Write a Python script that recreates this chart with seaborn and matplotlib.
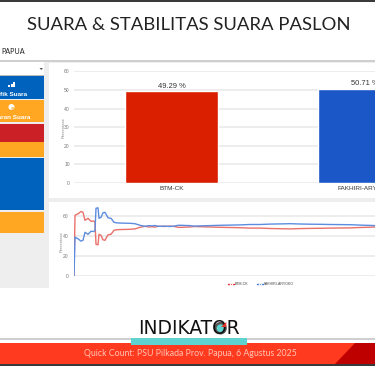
import matplotlib
matplotlib.use("Agg")
import matplotlib.pyplot as plt
from matplotlib.patches import Rectangle, Polygon, Circle, Wedge
import pandas as pd
import seaborn as sns

paslon = ["BTM-CK", "FAKHIRI-ARYOKO"]
persen = [49.29, 50.71]
warna = ["#DA1F00", "#1C57C8"]
warna_garis = ["#E9716A", "#5D8DE0"]

sampel = [0, 1, 2, 4, 7, 9, 11, 14, 17, 20, 21, 22, 24, 25, 27, 29, 31, 34, 37, 40, 43, 48, 56, 61, 66,
          71, 75, 78, 81, 84, 87, 90, 93, 96, 100, 104, 108, 112, 116, 120, 126, 136, 146, 156, 166,
          176, 186, 196, 206, 216, 226, 236, 246, 256, 266, 276, 286, 296, 301]
btm_ck = [0, 61, 61.5, 62.5, 64.8, 64, 56, 58, 55, 55.2, 54, 32, 31.5, 42, 41, 36.5, 36, 41.5, 42, 46,
          46.6, 46.8, 47, 47.4, 49, 50, 49.3, 49.6, 49.2, 50, 50, 49.8, 50, 50.2, 49.9, 49, 49, 49.2,
          49.3, 49.8, 49.6, 49.3, 49, 48.8, 48.6, 48.2, 48.2, 47.8, 47.6, 47.4, 47.7, 47.9, 48, 48.2,
          48.3, 48.4, 48.8, 49.1, 49.29]
fakhiri = [0, 39, 38.5, 37.5, 35.2, 36, 44, 42, 45, 44.8, 46, 68, 68.5, 58, 59, 63.5, 64, 58.5, 58, 54,
           53.4, 53.2, 53, 52.6, 51, 50, 50.7, 50.4, 50.8, 50, 50, 50.2, 50, 49.8, 50.1, 51, 51, 50.8,
           50.7, 50.2, 50.4, 50.7, 51, 51.2, 51.4, 51.8, 51.8, 52.2, 52.4, 52.6, 52.3, 52.1, 52, 51.8,
           51.7, 51.6, 51.2, 50.9, 50.71]

judul = "SUARA & STABILITAS SUARA PASLON"
wilayah = "PAPUA"
menu_1 = "Grafik Suara"
menu_2 = "Sebaran Suara"
kaki = "Quick Count: PSU Pilkada Prov. Papua, 6 Agustus 2025"
logo = "INDIKATOR"
sumbu_y = "Persentase"

W, H = 375, 366
sns.set_theme(style="white")
plt.rcParams["font.family"] = ["Liberation Sans", "DejaVu Sans"]
fig = plt.figure(figsize=(W / 100, H / 100), dpi=100, facecolor="white")


def kotak(px0, py0, px1, py1):
    return [px0 / W, 1 - py1 / H, (px1 - px0) / W, (py1 - py0) / H]


bg = fig.add_axes([0, 0, 1, 1], zorder=0)
bg.set_xlim(0, W)
bg.set_ylim(H, 0)
bg.axis("off")


def rect(x0, y0, x1, y1, c, **kw):
    bg.add_patch(Rectangle((x0, y0), x1 - x0, y1 - y0, fc=c, ec="none", **kw))


rect(0, 0, W, 1.5, "#3a3a3a")
rect(0, 60, W, 62, "#cfcfcf")
rect(0, 62, W, 288, "#EEEEEE")
rect(49, 63, W, 198, "white")
rect(49, 202, W, 288, "white")
rect(0, 62, 44, 75, "white")
rect(0, 75, 44, 76, "#bbbbbb")
for y0, y1, c in [(76, 98.5, "#0062BC"), (100, 122, "#FFA722"), (124, 142, "#CC2027"),
                  (142, 156.5, "#FFA722"), (158, 210, "#0062BC"), (212, 233, "#FFA722")]:
    rect(0, y0, 44, y1, c)
bg.add_patch(Polygon([(39.5, 68), (43, 68), (41.2, 70)], fc="#555555", ec="none"))

# ikon menu
for x, h in [(8, 1.5), (10.5, 3), (13, 4.5)]:
    rect(x, 86.5 - h, x + 2, 86.5, "white")
bg.add_patch(Circle((11.5, 107), 3, fc="white", ec="none"))
bg.add_patch(Wedge((11.5, 107), 3, 0, 90, fc="#FFC873", ec="none"))

bg.text(27, 94, menu_1, color="white", fontsize=4.6, ha="right", va="center", fontweight="bold")
bg.text(30.5, 117.5, menu_2, color="white", fontsize=4.6, ha="right", va="center", fontweight="bold")

bg.text(189, 24.5, judul, family=["Lato"], fontsize=13.3, color="#222222",
        ha="center", va="center")
bg.text(1, 51, wilayah, fontsize=5.2, color="#222222", ha="left", va="center", family=["Lato"])

# kaki halaman
rect(0, 338, W, 339.5, "#CFCFCF")
rect(0, 342.5, W, 364, "#FF3A1F")
bg.add_patch(Polygon([(355, 342.5), (W, 342.5), (W, 364), (335, 364)], fc="#BE0000", ec="none"))
rect(131, 338, 247, 345, "#5FD3CF")
rect(0, 364, W, 366, "#3a3a3a")
bg.text(190.5, 354, kaki, color="#FFC4B4", fontsize=6.3, ha="center", va="center", family=["Lato"])

bg.text(188.5, 328, logo, color="#111111", fontsize=13.4, ha="center", va="center",
        family=["DejaVu Sans"])
rect(214.5, 321, 228, 335, "white")
bg.add_patch(Circle((220.5, 328.2), 5.1, fc="#5FD3CF", ec="#555555", lw=1.7))
bg.add_patch(Polygon([(221, 327), (226.3, 322), (226.3, 327)], fc="#E5352A", ec="none", zorder=5))

# grafik batang
ax1 = fig.add_axes(kotak(74, 71.3, W, 183), zorder=1, facecolor="none")
df1 = pd.DataFrame({"paslon": paslon, "persen": persen})
sns.barplot(data=df1, x="paslon", y="persen", hue="paslon", palette=warna, width=0.48,
            legend=False, ax=ax1, saturation=1, zorder=3)
ax1.set_xlim(-0.504, 1.053)
ax1.set_ylim(0, 60)
ax1.set_yticks(range(0, 61, 10))
ax1.set_xlabel("")
ax1.set_ylabel(sumbu_y, fontsize=3, color="#888888", labelpad=-1)
ax1.tick_params(axis="y", labelsize=3.6, labelcolor="#777777", length=0, pad=3)
ax1.tick_params(axis="x", labelsize=4.6, labelcolor="#333333", length=0, pad=2.2)
ax1.grid(axis="y", color="#E8E8E8", lw=1.1, zorder=0)
ax1.grid(axis="x", visible=False)
for s in ax1.spines.values():
    s.set_visible(False)
for cont, v in zip(ax1.containers, persen):
    ax1.bar_label(cont, labels=[f"{v:.2f} %"], fontsize=5.4, color="#333333", padding=1.2)

# grafik garis
ax2 = fig.add_axes(kotak(74, 206.3, W, 276.3), zorder=1, facecolor="none")
df2 = pd.concat([
    pd.DataFrame({"sampel": sampel, "persen": btm_ck, "paslon": paslon[0]}),
    pd.DataFrame({"sampel": sampel, "persen": fakhiri, "paslon": paslon[1]}),
])
sns.lineplot(data=df2, x="sampel", y="persen", hue="paslon", palette=warna_garis,
             estimator=None, sort=False, lw=1.0, ax=ax2, zorder=3)
ax2.set_xlim(0, 301)
ax2.set_ylim(0, 70)
ax2.set_yticks([0, 20, 40, 60])
ax2.set_xticks([])
ax2.set_xlabel("")
ax2.set_ylabel(sumbu_y, fontsize=3, color="#888888", labelpad=-0.5)
ax2.tick_params(axis="y", labelsize=3.6, labelcolor="#777777", length=0, pad=4)
ax2.grid(axis="y", color="#E8E8E8", lw=1.1, zorder=0)
ax2.grid(axis="x", visible=False)
for s in ax2.spines.values():
    s.set_visible(False)
h, l = ax2.get_legend_handles_labels()
for hh, c in zip(h, ["#E02020", "#2F6FE0"]):
    hh.set_color(c)
    hh.set_marker("D")
    hh.set_markersize(1.4)
ax2.legend(h, l, loc="center", bbox_to_anchor=((261 - 74) / 301, (276.3 - 284) / 70), ncols=2,
           frameon=False, fontsize=2.6, handlelength=1.7, handletextpad=0.2, columnspacing=2.2,
           labelcolor="#444444", borderpad=0)

fig.savefig("out.png", dpi=100, facecolor="white")
